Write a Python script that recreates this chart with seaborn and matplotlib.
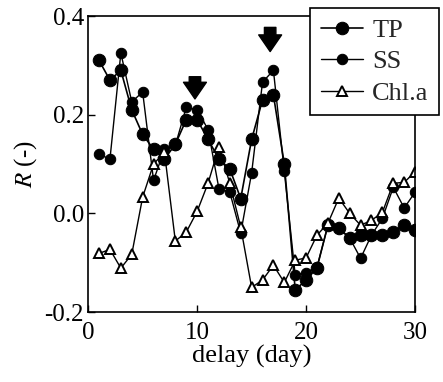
import numpy as np
import pandas as pd
import matplotlib
matplotlib.use("Agg")
import matplotlib.pyplot as plt
import seaborn as sns

# ── Data ─────────────────────────────────────────────────────
delay = list(range(1, 31))
tp = [0.31, 0.27, 0.29, 0.21, 0.16, 0.13, 0.11, 0.14, 0.19, 0.19,
      0.15, 0.11, 0.09, 0.03, 0.15, 0.23, 0.24, 0.10, -0.155, -0.135,
      -0.11, -0.024, -0.03, -0.05, -0.044, -0.044, -0.044, -0.038, -0.024, -0.034]
ss = [0.12, 0.11, 0.325, 0.226, 0.246, 0.067, 0.13, 0.138, 0.215, 0.21,
      0.17, 0.05, 0.043, -0.04, 0.082, 0.266, 0.29, 0.085, -0.125, -0.12,
      -0.109, -0.024, -0.03, -0.05, -0.091, -0.044, -0.01, 0.053, 0.011, 0.043]
chla = [-0.081, -0.073, -0.111, -0.083, 0.033, 0.10, 0.124, -0.056, -0.038, 0.004,
        0.061, 0.135, 0.061, -0.028, -0.15, -0.135, -0.105, -0.14, -0.095, -0.09,
        -0.044, -0.02, 0.031, 0.0, -0.024, -0.014, 0.002, 0.061, 0.063, 0.084]
arrow_days = [9.8, 16.7]
arrow_tips = [0.232, 0.328]
arrow_tails = [0.277, 0.377]

df = pd.DataFrame({"delay": delay, "TP": tp, "SS": ss, "Chl.a": chla})

sns.set_theme(style="ticks")
plt.rcParams["font.family"] = ["Liberation Serif", "DejaVu Serif"]
plt.rcParams["mathtext.fontset"] = "stix"

fig = plt.figure(figsize=(4.43, 3.82), dpi=100)
ax = fig.add_axes([0.199, 0.183, 0.738, 0.775])

sns.lineplot(data=df, x="delay", y="TP", ax=ax, color="black", lw=1.2,
             marker="o", markersize=9, markeredgecolor="black", label="TP")
sns.lineplot(data=df, x="delay", y="SS", ax=ax, color="black", lw=1.0,
             marker="o", markersize=7.5, markeredgecolor="black", label="SS")
sns.lineplot(data=df, x="delay", y="Chl.a", ax=ax, color="black", lw=1.0,
             marker="^", markersize=7, markerfacecolor="white",
             markeredgecolor="black", markeredgewidth=1.4, label="Chl.a")

for d, tip, tail in zip(arrow_days, arrow_tips, arrow_tails):
    ax.annotate("", xy=(d, tip), xytext=(d, tail),
                arrowprops=dict(arrowstyle="simple,head_width=1.1,head_length=0.8,tail_width=0.55",
                                color="black", mutation_scale=15, shrinkA=0, shrinkB=0))

ax.set_xlim(0, 30)
ax.set_ylim(-0.2, 0.4)
ax.set_xticks([0, 10, 20, 30])
ax.set_yticks([-0.2, 0.0, 0.2, 0.4])
ax.set_yticklabels(["-0.2", "0.0", "0.2", "0.4"])
ax.tick_params(direction="in", length=5, width=1, labelsize=18, colors="black", pad=3)
ax.tick_params(axis="x", pad=7)
for sp in ax.spines.values():
    sp.set_visible(True)
    sp.set_color("black")
    sp.set_linewidth(1.2)
ax.set_xlabel("delay (day)", fontsize=19, color="black", labelpad=1)
ax.set_ylabel(r"$R$ (-)", fontsize=18, color="black", labelpad=4)

leg = ax.legend(loc="upper left", bbox_to_anchor=(0.679, 1.027), frameon=True,
                fontsize=19, handlelength=1.6, handletextpad=0.35,
                borderpad=0.4, labelspacing=0.3, fancybox=False,
                borderaxespad=0)
leg.get_frame().set_edgecolor("black")
leg.get_frame().set_linewidth(1.2)
leg.get_frame().set_alpha(1)

fig.savefig("out.png", dpi=100, facecolor="white")
